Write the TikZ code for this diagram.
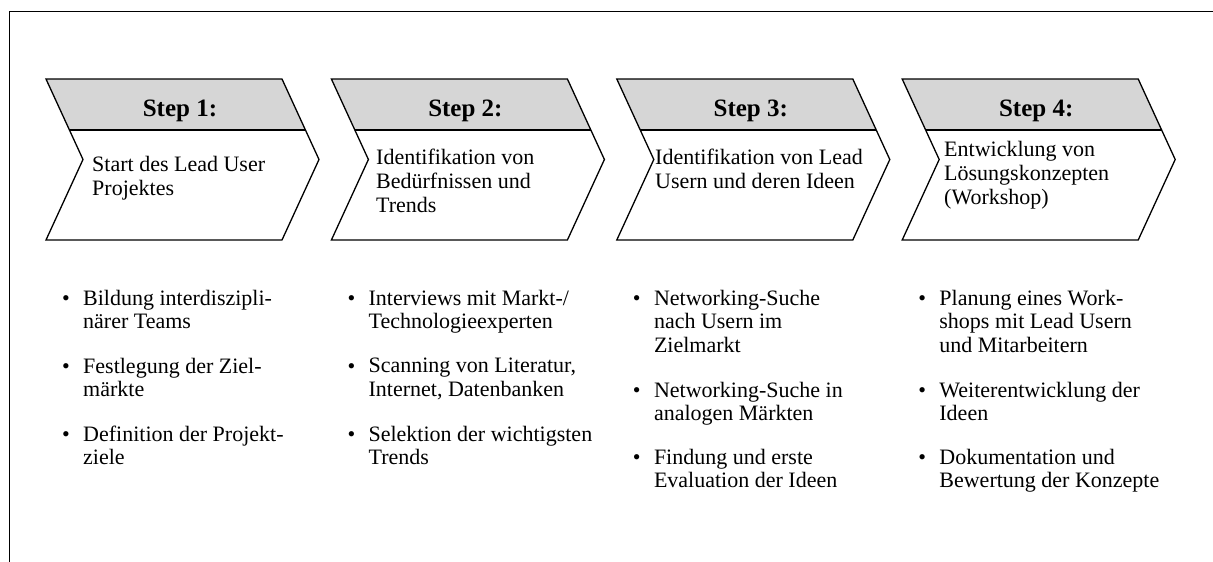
\documentclass[tikz,border=0pt]{standalone}
\usepackage{fontspec}
\setmainfont{Liberation Serif}
\begin{document}
\begin{tikzpicture}[x=1pt,y=-1pt,
  chev/.style={draw=black,line width=1.3pt,line join=miter},
  band/.style={fill=black!16},
  steptitle/.style={font=\fontsize{25}{28}\selectfont\bfseries,anchor=base,inner sep=0pt},
  desc/.style={font=\fontsize{22}{24}\selectfont,align=left,anchor=north west,inner sep=0pt},
  item/.style={font=\fontsize{22}{23.6}\selectfont,align=left,anchor=north west,inner sep=0pt},
  bul/.style={font=\fontsize{22}{23.6}\selectfont,anchor=base,inner sep=0pt},
  frame/.style={draw=black,line width=0.9pt}]
\useasboundingbox (0,0) rectangle (1213,562);
% frame (top and left only)
\coordinate (fa) at (9,562);
\coordinate (fb) at (9,11);
\coordinate (fc) at (1213,11);
\draw[frame] (fa) -- (fb) -- (fc);
% chevrons
\foreach \L/\n in {46/1,331.4/2,616.8/3,902.2/4}{
  \fill[band] (\L,79) -- (\L+236,79) -- (\L+259.4,130) -- (\L+23.4,130) -- cycle;
  \draw[chev] (\L+23.4,130) -- (\L+259.4,130);
  \draw[chev] (\L,79) -- (\L+236,79) -- (\L+273,159.5) -- (\L+236,240) -- (\L,240) -- (\L+37,159.5) -- cycle;
  \node[steptitle] (s\n) at (\L+134,116) {Step \n:};
}
% descriptions
\node[desc] (d1) at (92,171-15.3) {Start des Lead User\\Projektes};
\node[desc] (d2) at (376,164-15.3) {Identifikation von\\Bedürfnissen und\\Trends};
\node[desc] (d3) at (655,164-15.3) {Identifikation von Lead\\Usern und deren Ideen};
\node[desc] (d4) at (944,156-15.3) {Entwicklung von\\Lösungskonzepten\\(Workshop)};
% bullet items column 1
\node[bul] (b11) at (66,305) {\textbullet};
\node[item] (i11) at (83,305-15.3) {Bildung interdiszipli-\\närer Teams};
\node[bul] (b12) at (66,373) {\textbullet};
\node[item] (i12) at (83,373-15.3) {Festlegung der Ziel-\\märkte};
\node[bul] (b13) at (66,441) {\textbullet};
\node[item] (i13) at (83,441-15.3) {Definition der Projekt-\\ziele};
% column 2
\node[bul] (b21) at (351.4,305) {\textbullet};
\node[item] (i21) at (368.4,305-15.3) {Interviews mit Markt-/\\Technologieexperten};
\node[bul] (b22) at (351.4,373) {\textbullet};
\node[item] (i22) at (368.4,373-15.3) {Scanning von Literatur,\\Internet, Datenbanken};
\node[bul] (b23) at (351.4,441) {\textbullet};
\node[item] (i23) at (368.4,441-15.3) {Selektion der wichtigsten\\Trends};
% column 3
\node[bul] (b31) at (636.8,305) {\textbullet};
\node[item] (i31) at (653.8,305-15.3) {Networking-Suche\\nach Usern im\\Zielmarkt};
\node[bul] (b32) at (636.8,397) {\textbullet};
\node[item] (i32) at (653.8,397-15.3) {Networking-Suche in\\analogen Märkten};
\node[bul] (b33) at (636.8,464) {\textbullet};
\node[item] (i33) at (653.8,464-15.3) {Findung und erste\\Evaluation der Ideen};
% column 4
\node[bul] (b41) at (922.2,305) {\textbullet};
\node[item] (i41) at (939.2,305-15.3) {Planung eines Work-\\shops mit Lead Usern\\und Mitarbeitern};
\node[bul] (b42) at (922.2,397) {\textbullet};
\node[item] (i42) at (939.2,397-15.3) {Weiterentwicklung der\\Ideen};
\node[bul] (b43) at (922.2,464) {\textbullet};
\node[item] (i43) at (939.2,464-15.3) {Dokumentation und\\Bewertung der Konzepte};
\end{tikzpicture}
\end{document}
